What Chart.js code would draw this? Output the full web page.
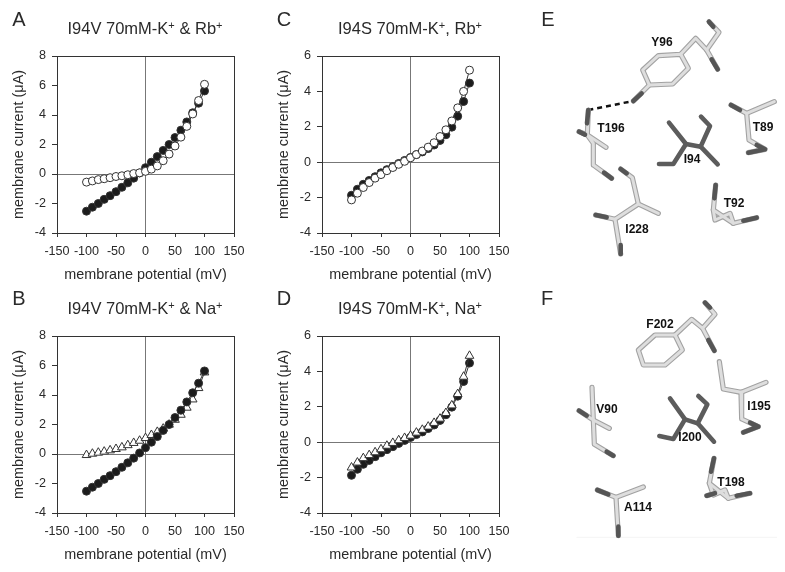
<!DOCTYPE html>
<html>
<head>
<meta charset="utf-8">
<script src="https://cdn.jsdelivr.net/npm/chart.js@4"></script>
<style>
  html, body { margin: 0; background: #fff; }
  #page { position: relative; width: 785px; height: 572px; overflow: hidden; font-family: "Liberation Sans", Arial, sans-serif; color: #2a2a2a; }
  canvas { position: absolute; }
  .letter, .title, .res { position: absolute; transform: translate(-50%, -50%); white-space: nowrap; }
  .letter { font-size: 20px; }
  .title { font-size: 16.5px; }
  .title sup { font-size: 11px; line-height: 0; vertical-align: 5px; }
  .res { font-size: 12px; font-weight: bold; color: #111; }
</style>
</head>
<body>
<div id="page">
  <canvas id="chartA" width="260" height="285" style="left:0;top:0"></canvas>
  <canvas id="chartC" width="260" height="285" style="left:265px;top:0"></canvas>
  <canvas id="chartB" width="260" height="285" style="left:0;top:280px"></canvas>
  <canvas id="chartD" width="260" height="285" style="left:265px;top:280px"></canvas>
  <canvas id="chartE" width="255" height="285" style="left:530px;top:0"></canvas>
  <canvas id="chartF" width="255" height="285" style="left:530px;top:285px"></canvas>

  <div class="letter" style="left:19px;top:19px">A</div>
  <div class="letter" style="left:19px;top:298px">B</div>
  <div class="letter" style="left:284px;top:19px">C</div>
  <div class="letter" style="left:284px;top:298px">D</div>
  <div class="letter" style="left:548px;top:19px">E</div>
  <div class="letter" style="left:547px;top:298px">F</div>

  <div class="title" style="left:145px;top:28px">I94V 70mM-K<sup>+</sup> &amp; Rb<sup>+</sup></div>
  <div class="title" style="left:410px;top:28px">I94S 70mM-K<sup>+</sup>, Rb<sup>+</sup></div>
  <div class="title" style="left:145px;top:308px">I94V 70mM-K<sup>+</sup> &amp; Na<sup>+</sup></div>
  <div class="title" style="left:410px;top:308px">I94S 70mM-K<sup>+</sup>, Na<sup>+</sup></div>

  <div class="res" style="left:662px;top:42px">Y96</div>
  <div class="res" style="left:611px;top:128px">T196</div>
  <div class="res" style="left:692px;top:159px">I94</div>
  <div class="res" style="left:763px;top:127px">T89</div>
  <div class="res" style="left:734px;top:203px">T92</div>
  <div class="res" style="left:637px;top:229px">I228</div>

  <div class="res" style="left:660px;top:324px">F202</div>
  <div class="res" style="left:607px;top:409px">V90</div>
  <div class="res" style="left:759px;top:406px">I195</div>
  <div class="res" style="left:690px;top:437px">I200</div>
  <div class="res" style="left:731px;top:482px">T198</div>
  <div class="res" style="left:638px;top:507px">A114</div>
</div>

<script>
const potentials = [-100, -90, -80, -70, -60, -50, -40, -30, -20, -10, 0, 10, 20, 30, 40, 50, 60, 70, 80, 90, 100]

// I-V curves
const i94vK = [-2.52, -2.25, -2.0, -1.72, -1.47, -1.2, -0.9, -0.6, -0.28, 0.07, 0.43, 0.8, 1.18, 1.6, 2.0, 2.47, 2.97, 3.53, 4.15, 4.8, 5.63]
const i94vRb = [-0.55, -0.47, -0.38, -0.32, -0.25, -0.17, -0.12, -0.05, 0.03, 0.08, 0.18, 0.33, 0.55, 0.9, 1.35, 1.9, 2.5, 3.23, 4.07, 4.98, 6.08]
const i94vNa = [-0.07, 0.02, 0.09, 0.16, 0.25, 0.34, 0.45, 0.6, 0.75, 0.9, 1.08, 1.29, 1.5, 1.72, 1.99, 2.32, 2.66, 3.14, 3.7, 4.47, 5.53]
const i94sK = [-1.87, -1.53, -1.25, -1.03, -0.82, -0.6, -0.42, -0.25, -0.07, 0.1, 0.27, 0.43, 0.58, 0.77, 0.97, 1.23, 1.55, 1.98, 2.6, 3.43, 4.47]
const i94sRb = [-2.13, -1.75, -1.43, -1.15, -0.9, -0.7, -0.48, -0.3, -0.12, 0.05, 0.25, 0.43, 0.63, 0.85, 1.1, 1.45, 1.83, 2.33, 3.07, 4.0, 5.2]
const i94sNa = [-1.43, -1.15, -0.9, -0.73, -0.57, -0.4, -0.2, -0.04, 0.11, 0.24, 0.37, 0.54, 0.7, 0.88, 1.09, 1.33, 1.65, 2.08, 2.72, 3.7, 4.88]

// stick models, as x,y runs in the structure's own 765x855 frame
const sticksE = [
  [452,163, 385,167, 338,210, 358,255, 428,252, 475,205, 452,163],
  [452,163, 497,115, 530,150, 567,97, 537,65],
  [530,150, 563,208],
  [358,255, 310,303],
  [175,330, 172,405, 228,442],
  [147,395, 172,405, 190,430, 190,495, 245,535],
  [272,507, 307,533, 325,612, 385,640],
  [325,612, 255,658, 272,762],
  [197,645, 255,658],
  [603,315, 650,340, 733,305],
  [650,340, 657,420, 705,448, 655,458],
  [557,555, 550,630, 610,670, 680,653],
  [550,630, 555,660, 600,640, 610,670]
]
const tipsE = [
  [537,65, 550,80],
  [545,178, 563,208],
  [335,280, 310,303],
  [175,330, 171,370],
  [147,395, 165,404],
  [222,518, 245,535],
  [272,507, 290,520],
  [197,645, 230,652],
  [272,735, 272,762],
  [603,315, 630,330],
  [680,435, 705,448, 655,458],
  [557,555, 553,595],
  [640,662, 680,653]
]
const coreE = [
  [417,368, 468,432, 512,440, 540,378, 513,350],
  [512,440, 563,493],
  [468,432, 430,492, 387,492]
]
const hBondE = [175,330, 310,303]

const sticksF = [
  [435,150, 375,150, 325,195, 340,240, 405,240, 457,195, 435,150],
  [435,150, 485,103, 518,130, 555,88, 525,53],
  [518,130, 553,197],
  [568,230, 580,312, 633,322, 708,292],
  [633,322, 635,402, 685,425, 640,442],
  [186,307, 190,405, 238,430],
  [147,377, 190,405, 193,478, 250,512],
  [552,520, 538,595, 595,640, 660,625],
  [538,595, 550,630, 585,615, 595,640],
  [530,632, 555,625],
  [202,615, 258,637, 340,606],
  [258,637, 265,752]
]
const tipsF = [
  [525,53, 540,68],
  [535,165, 553,197],
  [660,413, 685,425, 640,442],
  [147,377, 170,392],
  [230,500, 250,512],
  [552,520, 543,560],
  [620,632, 660,625],
  [530,632, 555,625],
  [202,615, 235,628],
  [265,725, 265,752]
]
const coreF = [
  [420,340, 465,403, 503,415, 532,358, 505,333],
  [503,415, 552,470],
  [465,403, 430,462, 388,453]
]
const baselineF = [140,757, 740,757]

const INK = '#2a2a2a'
const FONT = '"Liberation Sans", Arial, sans-serif'

const plotFrame = {
  id: 'plotFrame',
  beforeDatasetsDraw(chart) {
    const { ctx, chartArea: a } = chart
    ctx.save()
    ctx.strokeStyle = '#333'
    ctx.lineWidth = 1
    ctx.strokeRect(Math.round(a.left) + 0.5, Math.round(a.top) + 0.5, Math.round(a.width), Math.round(a.height))
    ctx.restore()
  }
}

function curve(values, kind, order) {
  const open = kind !== 'filled'
  return {
    data: potentials.map((x, i) => ({ x, y: values[i] })),
    order,
    showLine: true,
    borderColor: '#333',
    borderWidth: 1,
    pointStyle: kind === 'triangle' ? 'triangle' : 'circle',
    pointRadius: kind === 'triangle' ? 5 : 4,
    pointBackgroundColor: open ? '#fff' : '#1c1c1c',
    pointBorderColor: '#333',
    pointBorderWidth: 1
  }
}

function ivChart(id, yMax, datasets) {
  new Chart(document.getElementById(id), {
    type: 'scatter',
    data: { datasets },
    plugins: [plotFrame],
    options: {
      responsive: false,
      animation: false,
      layout: { padding: { top: 56, right: 26, bottom: 0, left: 0 } },
      plugins: { legend: { display: false }, tooltip: { enabled: false } },
      scales: {
        x: {
          type: 'linear', min: -150, max: 150,
          afterFit(scale) { scale.height = 52 },
          border: { display: false },
          grid: {
            tickLength: 4, tickColor: '#333',
            color: ctx => ctx.tick && ctx.tick.value === 0 ? '#777' : 'transparent'
          },
          ticks: { stepSize: 50, color: INK, padding: 7, maxRotation: 0, font: { family: FONT, size: 12.6 } },
          title: { display: true, text: 'membrane potential (mV)', color: INK, padding: { top: 0, bottom: 1 }, font: { family: FONT, size: 14.4 } }
        },
        y: {
          type: 'linear', min: -4, max: yMax,
          afterFit(scale) { scale.width = 57 },
          border: { display: false },
          grid: {
            tickLength: 5, tickColor: '#333',
            color: ctx => ctx.tick && ctx.tick.value === 0 ? '#777' : 'transparent'
          },
          ticks: { stepSize: 2, color: INK, padding: 6, font: { family: FONT, size: 12.6 } },
          title: { display: true, text: 'membrane current (μA)', color: INK, padding: { top: 10, bottom: 0 }, font: { family: FONT, size: 14.4 } }
        }
      }
    }
  })
}

function runToPoints(run) {
  const pts = []
  for (let i = 0; i < run.length; i += 2) pts.push({ x: run[i], y: run[i + 1] })
  return pts
}

function stick(run, color, width, order, dash) {
  return {
    data: runToPoints(run),
    order,
    showLine: true,
    borderColor: color,
    borderWidth: width,
    borderCapStyle: dash ? 'butt' : 'round',
    borderJoinStyle: 'round',
    borderDash: dash || [],
    pointRadius: 0
  }
}

function structureChart(id, sticks, tips, core, extras) {
  const datasets = [...extras]
  sticks.forEach(run => {
    datasets.push(stick(run, '#a2a2a2', 5.2, 6))
    datasets.push(stick(run, '#dedede', 3, 5))
  })
  tips.forEach(run => datasets.push(stick(run, '#555', 4.6, 4)))
  core.forEach(run => datasets.push(stick(run, '#5c5c5c', 4.6, 4)))
  new Chart(document.getElementById(id), {
    type: 'scatter',
    data: { datasets },
    options: {
      responsive: false,
      animation: false,
      layout: { padding: 0 },
      plugins: { legend: { display: false }, tooltip: { enabled: false } },
      scales: {
        x: { type: 'linear', min: 0, max: 765, display: false },
        y: { type: 'linear', min: 0, max: 855, reverse: true, display: false }
      }
    }
  })
}

// lower order draws on top
ivChart('chartA', 8, [curve(i94vRb, 'open', 1), curve(i94vK, 'filled', 2)])
ivChart('chartB', 8, [curve(i94vK, 'filled', 1), curve(i94vNa, 'triangle', 2)])
ivChart('chartC', 6, [curve(i94sRb, 'open', 1), curve(i94sK, 'filled', 2)])
ivChart('chartD', 6, [curve(i94sNa, 'triangle', 1), curve(i94sK, 'filled', 2)])

structureChart('chartE', sticksE, tipsE, coreE, [stick(hBondE, '#111', 2.4, 7, [5, 4])])
structureChart('chartF', sticksF, tipsF, coreF, [stick(baselineF, '#f4f4f4', 1, 8)])
</script>
</body>
</html>
